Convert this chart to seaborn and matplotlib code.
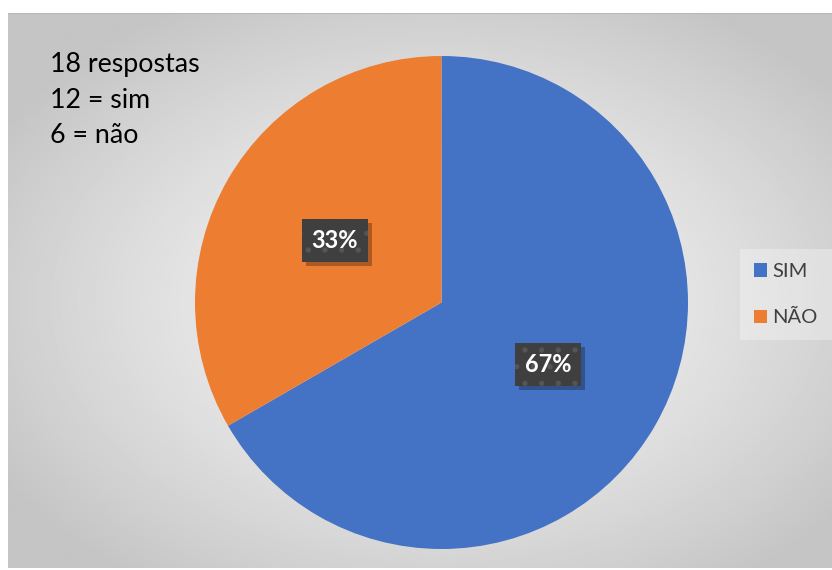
import numpy as np
import matplotlib
matplotlib.use("Agg")
import matplotlib.pyplot as plt
from matplotlib.patches import Patch, Rectangle
from matplotlib.transforms import IdentityTransform
import seaborn as sns

# Survey answers
categories = ["SIM", "NÃO"]
counts = [12, 6]
colors = ["#4472C4", "#ED7D31"]
note_lines = ["18 respostas", "12 = sim", "6 = não"]

sns.set_theme(style="white")
plt.rcParams["font.family"] = ["Lato", "DejaVu Sans"]
plt.rcParams["hatch.linewidth"] = 1.4

W, H = 832, 570
fig = plt.figure(figsize=(W / 100, H / 100), dpi=100)
fig.patch.set_facecolor("white")

# Chart area with a soft radial gradient
bg = fig.add_axes([8 / W, 2 / H, 824 / W, 555 / H])
ny, nx = 300, 450
yy, xx = np.mgrid[0:ny, 0:nx]
cx, cy = 0.52 * nx, 0.52 * ny
r = np.sqrt(((xx - cx) / (0.62 * nx)) ** 2 + ((yy - cy) / (0.62 * ny)) ** 2)
r = np.clip(r, 0, 1)
shade = 0.96 - (0.96 - 0.77) * r ** 1.4
bg.imshow(shade, cmap="gray", vmin=0, vmax=1, aspect="auto",
          extent=[0, 1, 0, 1], interpolation="bilinear")
bg.set_xlim(0, 1)
bg.set_ylim(0, 1)
bg.axhline(1, color="#b8b8b8", lw=1.5)
bg.axis("off")

# Pie
d = 493
ax = fig.add_axes([195 / W, 21 / H, d / W, d / H])
wedges, _, autotexts = ax.pie(
    counts, colors=colors, startangle=90, counterclock=False,
    autopct=lambda p: f"{p:.0f}%", pctdistance=0.5, labeldistance=None,
    wedgeprops=dict(linewidth=0), radius=1.0,
)
ax.set_xlim(-1, 1)
ax.set_ylim(-1, 1)
ax.set_aspect("equal")
ax.axis("off")

label_size = 17
for t in autotexts:
    t.set_color("white")
    t.set_fontweight("bold")
    t.set_fontsize(label_size)
    t.set_zorder(4)
    t.set_bbox(dict(boxstyle="square,pad=0.42", facecolor="#3f3f3f",
                    edgecolor="#555555", linewidth=0, hatch="."))

# Note in the upper left corner
for line, base in zip(note_lines, [72, 108, 143]):
    fig.text(50 / W, 1 - base / H, line, fontsize=19.3, color="black",
             va="baseline", ha="left")

# Legend
handles = [Patch(facecolor=c, edgecolor="none") for c in colors]
leg = fig.legend(handles, categories, loc="upper left",
                 bbox_to_anchor=(740 / W, 1 - 249 / H), borderaxespad=0,
                 fontsize=14.5, handlelength=0.62, handleheight=0.62,
                 handletextpad=0.3, labelspacing=1.45, borderpad=0.7,
                 frameon=True, fancybox=False)
leg.get_frame().set_facecolor("white")
leg.get_frame().set_alpha(0.3)
leg.get_frame().set_linewidth(0)
for txt in leg.get_texts():
    txt.set_color("#404040")

# Drop shadows under the value boxes, placed from the drawn box extents
fig.canvas.draw()
renderer = fig.canvas.get_renderer()
for t in autotexts:
    ext = t.get_bbox_patch().get_window_extent(renderer)
    shadow = Rectangle((ext.x0 + 4, ext.y0 - 4), ext.width, ext.height,
                       transform=IdentityTransform(), facecolor="black",
                       alpha=0.28, linewidth=0, zorder=3)
    ax.add_artist(shadow)

fig.savefig("out.png", dpi=100, facecolor="white")
